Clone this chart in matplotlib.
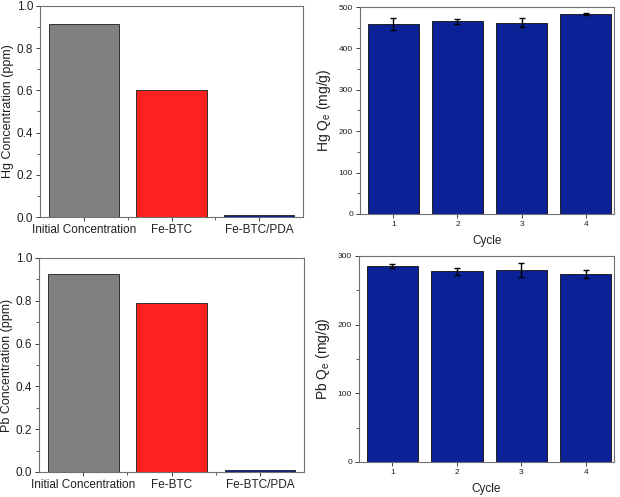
import matplotlib
matplotlib.use("Agg")
import matplotlib.pyplot as plt
from matplotlib.ticker import MultipleLocator, FixedLocator

plt.rcParams['font.family'] = ['Liberation Sans', 'DejaVu Sans']

materials = ["Initial Concentration", "Fe-BTC", "Fe-BTC/PDA"]
hg_conc = [0.913, 0.601, 0.010]
pb_conc = [0.925, 0.789, 0.010]
material_colors = ["#808080", "#ff2020", "#0a1f8f"]

cycles = [1, 2, 3, 4]
hg_qe = [459, 465, 462, 483]
hg_err = [15, 5, 11, 3]
pb_qe = [285, 278, 280, 274]
pb_err = [3, 5, 10, 6]

W, H = 620, 497
fig = plt.figure(figsize=(W / 100, H / 100), dpi=100)

def ax_at(x0, y0, x1, y1):
    return fig.add_axes([x0 / W, 1 - y1 / H, (x1 - x0) / W, (y1 - y0) / H])

frame_col = "#707070"

def style(ax, fsx, fsy):
    for s in ax.spines.values():
        s.set_color(frame_col)
        s.set_linewidth(0.8)
    ax.tick_params(axis='both', which='both', direction='out', color='#404040', pad=2,
                   labelcolor="#202020")
    ax.tick_params(axis='x', labelsize=fsx)
    ax.tick_params(axis='y', labelsize=fsy)
    ax.tick_params(which='major', length=3, width=0.7)
    ax.tick_params(which='minor', length=2, width=0.6)

def conc_panel(ax, vals, ylabel):
    x = list(range(len(materials)))
    ax.bar(x, vals, width=0.8, color=material_colors, edgecolor="#303030", linewidth=0.7)
    ax.set_xlim(-0.5, 2.5)
    ax.set_ylim(0, 1.0)
    ax.set_xticks(x)
    ax.set_xticklabels(materials)
    ax.xaxis.set_minor_locator(FixedLocator([0.5, 1.5]))
    ax.yaxis.set_major_locator(MultipleLocator(0.2))
    ax.yaxis.set_minor_locator(MultipleLocator(0.1))
    ax.yaxis.set_major_formatter(plt.FuncFormatter(lambda v, p: f"{v:.1f}"))
    ax.set_ylabel(ylabel, fontsize=9, color="#202020", labelpad=1.5)
    style(ax, 8.5, 8.5)

def qe_panel(ax, vals, errs, ymax, ylabel):
    ax.bar(cycles, vals, width=0.8, color="#0a2296", edgecolor="#202020", linewidth=0.7,
           yerr=errs, error_kw=dict(ecolor="black", elinewidth=1.0, capsize=2.5, capthick=1.0))
    ax.set_xlim(0.48, 4.44)
    ax.set_ylim(0, ymax)
    ax.set_xticks(cycles)
    ax.yaxis.set_major_locator(MultipleLocator(100))
    ax.yaxis.set_minor_locator(MultipleLocator(50))
    ax.set_ylabel(ylabel, fontsize=10, color="#202020", labelpad=4)
    ax.set_xlabel("Cycle", fontsize=8.5, color="#202020", labelpad=5)
    style(ax, 6, 6)

ax1 = ax_at(40, 6, 303, 217)
conc_panel(ax1, hg_conc, "Hg Concentration (ppm)")
ax2 = ax_at(360, 7, 614, 214)
qe_panel(ax2, hg_qe, hg_err, 500, r"Hg Q$_\mathregular{e}$ (mg/g)")
ax3 = ax_at(39, 258, 304, 472)
conc_panel(ax3, pb_conc, "Pb Concentration (ppm)")
ax4 = ax_at(359, 256, 614, 462)
qe_panel(ax4, pb_qe, pb_err, 300, r"Pb Q$_\mathregular{e}$ (mg/g)")

fig.savefig("out.png", dpi=100)
